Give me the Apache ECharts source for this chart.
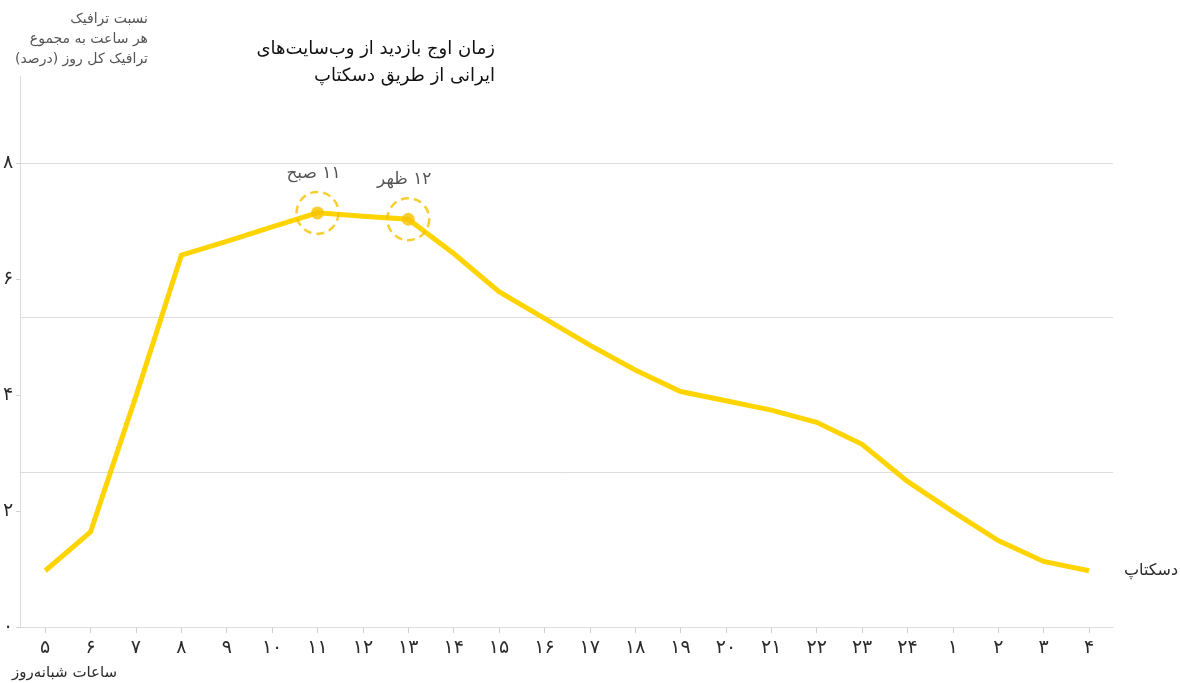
<!DOCTYPE html>
<html lang="fa" dir="rtl">
<head>
<meta charset="utf-8">
<script src="https://cdn.jsdelivr.net/npm/echarts@6/dist/echarts.min.js"></script>
<style>
  html, body { margin: 0; padding: 0; background: #fff; }
  #chart { width: 1180px; height: 683px; direction: rtl; }
</style>
</head>
<body>
<div id="chart"></div>
<script>
// Hour of the day (Persian digits), starting at 5 in the morning
const hours = ['۵','۶','۷','۸','۹','۱۰','۱۱','۱۲','۱۳','۱۴','۱۵','۱۶','۱۷','۱۸','۱۹','۲۰','۲۱','۲۲','۲۳','۲۴','۱','۲','۳','۴'];
// Share of the whole day's desktop traffic for each hour (percent)
const desktop = [0.97,1.64,3.98,6.41,6.65,6.90,7.14,7.08,7.03,6.44,5.78,5.32,4.86,4.43,4.06,3.90,3.74,3.53,3.15,2.51,1.99,1.49,1.13,0.97];
// Value-axis tick labels for 0, 2, 4, 6, 8
const yTickLabels = ['۰','۲','۴','۶','۸'];
// Highlighted peak hours (category index + caption)
const peaks = [
  { index: 6, text: '۱۱ صبح' },
  { index: 8, text: '۱۲ ظهر' }
];
const titleText = 'زمان اوج بازدید از وب‌سایت‌های\nایرانی از طریق دسکتاپ';
const yAxisName = 'نسبت ترافیک\nهر ساعت به مجموع\nترافیک کل روز (درصد)';
const xAxisName = 'ساعات شبانه‌روز';
const seriesName = 'دسکتاپ';

const FONT = "'DejaVu Sans', sans-serif";
const LINE = '#FFD400';
const ACCENT = '#F6C200';
const AXIS = '#DDDDDD';
const TEXT = '#2b2b2b';

const chart = echarts.init(document.getElementById('chart'), null, { renderer: 'canvas' });

const peakPoints = peaks.map(p => ({ value: [p.index, desktop[p.index]], name: p.text }));

chart.setOption({
  animation: false,
  backgroundColor: '#fff',
  textStyle: { fontFamily: FONT },
  title: [
    {
      text: titleText,
      left: 495, top: 36, padding: 0,
      textAlign: 'right',
      textStyle: { fontFamily: FONT, fontSize: 18, fontWeight: 'normal', color: '#111', lineHeight: 27 }
    },
    {
      text: yAxisName,
      left: 148, top: 9, padding: 0,
      textAlign: 'right',
      textStyle: { fontFamily: FONT, fontSize: 14, fontWeight: 'normal', color: '#555', lineHeight: 20 }
    },
    {
      text: xAxisName,
      left: 12, top: 666, padding: 0,
      textStyle: { fontFamily: FONT, fontSize: 15, fontWeight: 'normal', color: TEXT }
    }
  ],
  grid: [
    // outer frame: axis lines
    { left: 20, right: 67, top: 76, bottom: 56 },
    // plotting area for the series
    { left: 45, right: 91, top: 163, bottom: 56 },
    // horizontal guide lines
    { left: 20, right: 67, top: 163, bottom: 56 }
  ],
  xAxis: [
    {
      gridIndex: 0, type: 'value', min: 0, max: 1,
      axisLine: { show: true, lineStyle: { color: AXIS, width: 1 } },
      axisTick: { show: false }, axisLabel: { show: false }, splitLine: { show: false }
    },
    {
      gridIndex: 1, type: 'category', data: hours, boundaryGap: false,
      axisLine: { show: false },
      axisTick: { show: true, length: 6, alignWithLabel: true, lineStyle: { color: '#cfcfcf' } },
      axisLabel: { show: true, interval: 0, margin: 12, fontSize: 19, color: TEXT, fontFamily: FONT },
      splitLine: { show: false }
    },
    {
      gridIndex: 2, type: 'value', min: 0, max: 1, show: false
    }
  ],
  yAxis: [
    {
      gridIndex: 0, type: 'value', min: 0, max: 1,
      axisLine: { show: true, lineStyle: { color: AXIS, width: 1 } },
      axisTick: { show: false }, axisLabel: { show: false }, splitLine: { show: false }
    },
    {
      gridIndex: 1, type: 'value', min: 0, max: 8, interval: 2, offset: 25,
      axisLine: { show: false },
      axisTick: { show: true, length: 4, lineStyle: { color: '#cfcfcf' } },
      axisLabel: {
        show: true, margin: 7, fontSize: 19, color: TEXT, fontFamily: FONT,
        padding: [0, 0, 12, 0],
        formatter: v => yTickLabels[Math.round(v / 2)]
      },
      splitLine: { show: false }
    },
    {
      gridIndex: 2, type: 'value', min: 0, max: 3, interval: 1,
      axisLine: { show: false }, axisTick: { show: false }, axisLabel: { show: false },
      splitLine: { show: true, lineStyle: { color: AXIS, width: 1 } }
    }
  ],
  series: [
    {
      name: seriesName,
      type: 'line',
      xAxisIndex: 1, yAxisIndex: 1,
      data: desktop,
      symbol: 'none',
      lineStyle: { color: LINE, width: 5, join: 'miter' },
      endLabel: {
        show: true, formatter: seriesName, distance: 35,
        fontFamily: FONT, fontSize: 16, color: TEXT
      },
      z: 3
    },
    {
      type: 'scatter',
      xAxisIndex: 1, yAxisIndex: 1,
      data: peakPoints,
      symbol: 'circle', symbolSize: 42,
      itemStyle: { color: 'rgba(0,0,0,0)', borderColor: ACCENT, borderWidth: 2.5, borderType: [8, 5] },
      label: {
        show: true, position: 'top', distance: 9, offset: [-4, 0],
        formatter: p => p.name,
        fontFamily: FONT, fontSize: 17, color: TEXT
      },
      silent: true,
      z: 4
    },
    {
      type: 'scatter',
      xAxisIndex: 1, yAxisIndex: 1,
      data: peakPoints,
      symbol: 'circle', symbolSize: 13,
      itemStyle: { color: ACCENT },
      silent: true,
      z: 5
    }
  ]
});
</script>
</body>
</html>
